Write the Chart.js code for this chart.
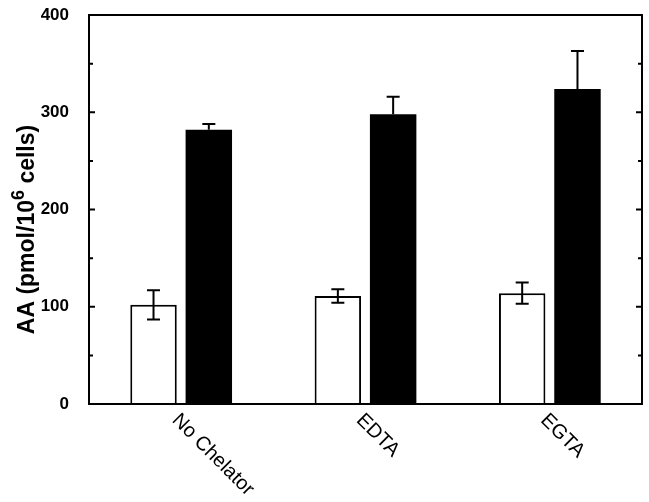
<!DOCTYPE html>
<html>
<head>
<meta charset="utf-8">
<script src="https://cdn.jsdelivr.net/npm/chart.js@4/dist/chart.umd.min.js"></script>
<style>
  html, body { margin: 0; padding: 0; background: #fff; }
  #wrap { width: 649px; height: 502px; position: relative; }
</style>
</head>
<body>
<div id="wrap"><canvas id="c"></canvas></div>
<script>
const categories = ["No Chelator", "EDTA", "EGTA"];
const controlVals = [102, 111, 114];
const controlErr = [15, 7, 11];
const treatedVals = [282, 298, 324];
const treatedErr = [6, 18, 39];
const majorTicks = [0, 100, 200, 300, 400];
const minorTicks = [50, 150, 250, 350];

const FONT = "'Liberation Sans', Arial, sans-serif";

// frame, inward ticks, error bars, rotated x labels, y title
const decorPlugin = {
  id: "decor",
  afterDatasetsDraw(chart) {
    const { ctx, chartArea: a, scales } = chart;
    const y = scales.y, x = scales.x;
    ctx.save();
    ctx.strokeStyle = "#000";
    ctx.lineWidth = 2;

    // error bars
    const errs = [controlErr, treatedErr];
    const vals = [controlVals, treatedVals];
    chart.data.datasets.forEach((ds, di) => {
      const meta = chart.getDatasetMeta(di);
      meta.data.forEach((bar, i) => {
        const v = vals[di][i], e = errs[di][i];
        const yTop = y.getPixelForValue(v + e);
        const yBot = di === 0 ? y.getPixelForValue(v - e) : y.getPixelForValue(v);
        const cx = bar.x;
        ctx.beginPath();
        ctx.moveTo(cx, yTop); ctx.lineTo(cx, yBot);
        ctx.moveTo(cx - 6.5, yTop); ctx.lineTo(cx + 6.5, yTop);
        if (di === 0) { ctx.moveTo(cx - 6.5, yBot); ctx.lineTo(cx + 6.5, yBot); }
        ctx.stroke();
      });
    });

    // frame
    ctx.strokeRect(a.left, a.top, a.right - a.left, a.bottom - a.top);

    // inward ticks on left and right
    const tick = (v, len) => {
      const py = y.getPixelForValue(v);
      ctx.beginPath();
      ctx.moveTo(a.left, py); ctx.lineTo(a.left + len, py);
      ctx.moveTo(a.right, py); ctx.lineTo(a.right - len, py);
      ctx.stroke();
    };
    majorTicks.forEach(v => tick(v, 6));
    minorTicks.forEach(v => tick(v, 4));

    // rotated category labels
    ctx.fillStyle = "#000";
    ctx.font = "20px " + FONT;
    ctx.textAlign = "left";
    ctx.textBaseline = "top";
    categories.forEach((c, i) => {
      const px = x.getPixelForValue(i);
      ctx.save();
      ctx.translate(px + 1, a.bottom + 6);
      ctx.rotate(Math.PI / 4);
      ctx.fillText(c, 0, 0);
      ctx.restore();
    });

    // y axis title with superscript
    const parts = [
      { t: "AA (pmol/10", f: "bold 23px " + FONT, dy: 0 },
      { t: "6", f: "bold 18px " + FONT, dy: -10 },
      { t: " cells)", f: "bold 23px " + FONT, dy: 0 }
    ];
    let total = 0;
    parts.forEach(p => { ctx.font = p.f; p.w = ctx.measureText(p.t).width; total += p.w; });
    ctx.save();
    ctx.translate(34, (a.top + a.bottom) / 2 + 20);
    ctx.rotate(-Math.PI / 2);
    ctx.textBaseline = "alphabetic";
    let cx = -total / 2;
    parts.forEach(p => { ctx.font = p.f; ctx.fillText(p.t, cx, p.dy); cx += p.w; });
    ctx.restore();

    ctx.restore();
  }
};

new Chart(document.getElementById("c"), {
  type: "bar",
  data: {
    labels: categories,
    datasets: [
      {
        label: "Control",
        data: controlVals,
        backgroundColor: "#fff",
        borderColor: "#000",
        borderWidth: 2,
        categoryPercentage: 0.6,
        barPercentage: 0.84
      },
      {
        label: "Treated",
        data: treatedVals,
        backgroundColor: "#000",
        borderColor: "#000",
        borderWidth: 0,
        categoryPercentage: 0.6,
        barPercentage: 0.84
      }
    ]
  },
  options: {
    responsive: true,
    maintainAspectRatio: false,
    animation: false,
    events: [],
    layout: { padding: { top: 15, right: 7, left: 0, bottom: 0 } },
    plugins: { legend: { display: false }, tooltip: { enabled: false } },
    scales: {
      x: {
        grid: { display: false },
        border: { display: false },
        ticks: { display: false },
        afterFit(s) { s.height = 98; s.paddingLeft = 0; s.paddingRight = 0; }
      },
      y: {
        min: 0,
        max: 400,
        afterBuildTicks(s) { s.ticks = majorTicks.map(v => ({ value: v })); },
        grid: { display: false },
        border: { display: false },
        ticks: {
          color: "#000",
          padding: 12,
          font: { family: FONT, size: 17, weight: "bold" }
        },
        afterFit(s) { s.width = 89; s.paddingTop = 0; s.paddingBottom = 0; }
      }
    }
  },
  plugins: [decorPlugin]
});
</script>
</body>
</html>
